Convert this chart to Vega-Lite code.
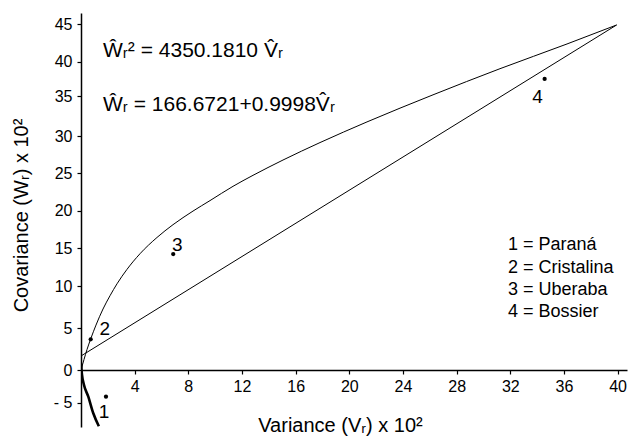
{
  "$schema": "https://vega.github.io/schema/vega-lite/v6.json",
  "width": 546,
  "height": 414,
  "autosize": {"type": "none"},
  "padding": {"left": 81, "top": 13, "right": 3, "bottom": 9},
  "background": "white",
  "config": {
    "font": "Liberation Sans",
    "view": {"stroke": null},
    "axis": {
      "grid": false,
      "domainColor": "black",
      "domainWidth": 1.5,
      "tickColor": "black",
      "tickWidth": 1.2,
      "tickSize": 4,
      "labelColor": "black",
      "labelFont": "Liberation Sans",
      "labelFontSize": 16,
      "titleColor": "black",
      "titleFont": "Liberation Sans",
      "titleFontSize": 20,
      "titleFontWeight": "normal",
      "labelFlush": false,
      "labelOverlap": false
    }
  },
  "datasets": {
    "curve": [
      {"branch": "upper", "ord": 1, "Vr": 0, "Wr": 0},
      {"branch": "upper", "ord": 2, "Vr": 0.224, "Wr": 1.26},
      {"branch": "upper", "ord": 3, "Vr": 0.447, "Wr": 2.45},
      {"branch": "upper", "ord": 4, "Vr": 0.723, "Wr": 3.73},
      {"branch": "upper", "ord": 5, "Vr": 1.118, "Wr": 5.38},
      {"branch": "upper", "ord": 6, "Vr": 1.64, "Wr": 7.28},
      {"branch": "upper", "ord": 7, "Vr": 2.162, "Wr": 8.85},
      {"branch": "upper", "ord": 8, "Vr": 2.684, "Wr": 10.29},
      {"branch": "upper", "ord": 9, "Vr": 3.429, "Wr": 12.21},
      {"branch": "upper", "ord": 10, "Vr": 4.398, "Wr": 14.28},
      {"branch": "upper", "ord": 11, "Vr": 5.665, "Wr": 16.44},
      {"branch": "upper", "ord": 12, "Vr": 6.858, "Wr": 18.14},
      {"branch": "upper", "ord": 13, "Vr": 8.349, "Wr": 19.95},
      {"branch": "upper", "ord": 14, "Vr": 9.616, "Wr": 21.35},
      {"branch": "upper", "ord": 15, "Vr": 11.331, "Wr": 23.26},
      {"branch": "upper", "ord": 16, "Vr": 12.822, "Wr": 24.73},
      {"branch": "upper", "ord": 17, "Vr": 15.058, "Wr": 26.78},
      {"branch": "upper", "ord": 18, "Vr": 17.816, "Wr": 29.12},
      {"branch": "upper", "ord": 19, "Vr": 21.319, "Wr": 31.76},
      {"branch": "upper", "ord": 20, "Vr": 26.239, "Wr": 35.17},
      {"branch": "upper", "ord": 21, "Vr": 31.233, "Wr": 38.98},
      {"branch": "upper", "ord": 22, "Vr": 36.228, "Wr": 42.35},
      {"branch": "upper", "ord": 23, "Vr": 39.926, "Wr": 44.87},
      {"branch": "lower", "ord": 1, "Vr": 0, "Wr": 0.8},
      {"branch": "lower", "ord": 2, "Vr": 0.075, "Wr": -0.76},
      {"branch": "lower", "ord": 3, "Vr": 0.224, "Wr": -2.29},
      {"branch": "lower", "ord": 4, "Vr": 0.544, "Wr": -4.08},
      {"branch": "lower", "ord": 5, "Vr": 0.916, "Wr": -6.62},
      {"branch": "lower", "ord": 6, "Vr": 1.33, "Wr": -8.6}
    ],
    "regression": [
      {"Vr": 0, "Wr": 1.68},
      {"Vr": 39.926, "Wr": 44.87}
    ],
    "parents": [
      {"id": "1", "name": "Paraná", "Vr": 1.862, "Wr": -4.08},
      {"id": "2", "name": "Cristalina", "Vr": 0.723, "Wr": 3.68},
      {"id": "3", "name": "Uberaba", "Vr": 6.875, "Wr": 14.24},
      {"id": "4", "name": "Bossier", "Vr": 34.56, "Wr": 37.48}
    ],
    "notes": [
      {"kind": "eq", "text": "\u0174\u1d63\u00b2 = 4350.1810 V\u0302\u1d63", "Vr": 1.64, "Wr": 40.58},
      {"kind": "eq", "text": "\u0174\u1d63 = 166.6721+0.9998V\u0302\u1d63", "Vr": 1.64, "Wr": 33.13},
      {"kind": "legend", "text": "1 = Paraná", "Vr": 31.83, "Wr": 14.77},
      {"kind": "legend", "text": "2 = Cristalina", "Vr": 31.83, "Wr": 11.76},
      {"kind": "legend", "text": "3 = Uberaba", "Vr": 31.83, "Wr": 8.94},
      {"kind": "legend", "text": "4 = Bossier", "Vr": 31.83, "Wr": 6.37}
    ]
  },
  "encoding": {
    "x": {
      "field": "Vr",
      "type": "quantitative",
      "scale": {"domain": [0, 40.7], "nice": false, "zero": false},
      "axis": {
        "values": [4, 8, 12, 16, 20, 24, 28, 32, 36, 40],
        "offset": -57,
        "labelPadding": 4,
        "title": "Variance (V\u1d63) x 10\u00b2",
        "titleX": 259,
        "titleY": 61,
        "titleAlign": "center",
        "titleBaseline": "alphabetic"
      }
    },
    "y": {
      "field": "Wr",
      "type": "quantitative",
      "scale": {
        "domain": [-8.72, -5, 0, 5, 10, 15, 20, 25, 30, 35, 40, 45, 46.46],
        "range": [414, 389.7, 357, 315.3, 273, 235.3, 197.7, 160.3, 123, 83, 48.7, 11, 0],
        "nice": false,
        "zero": false
      },
      "axis": {
        "values": [-5, 0, 5, 10, 15, 20, 25, 30, 35, 40, 45],
        "labelExpr": "datum.value < 0 ? '- ' + (-datum.value) : datum.label",
        "labelPadding": 5,
        "title": "Covariance (W\u1d63) x 10\u00b2",
        "titleX": -60,
        "titleY": 202,
        "titleAngle": -90,
        "titleAlign": "center",
        "titleBaseline": "middle"
      }
    }
  },
  "layer": [
    {
      "data": {"name": "curve"},
      "transform": [{"filter": "datum.branch === 'upper'"}],
      "mark": {"type": "line", "color": "black", "strokeWidth": 1, "interpolate": "monotone", "clip": true},
      "encoding": {"order": {"field": "ord", "type": "quantitative"}}
    },
    {
      "data": {"name": "curve"},
      "transform": [{"filter": "datum.branch === 'lower'"}],
      "mark": {"type": "line", "color": "black", "strokeWidth": 2.6, "interpolate": "monotone", "clip": true},
      "encoding": {"order": {"field": "ord", "type": "quantitative"}}
    },
    {
      "data": {"name": "regression"},
      "mark": {"type": "line", "color": "black", "strokeWidth": 1},
      "encoding": {}
    },
    {
      "data": {"name": "parents"},
      "mark": {"type": "point", "filled": true, "color": "black", "size": 18, "opacity": 1},
      "encoding": {}
    },
    {
      "data": {"name": "parents"},
      "transform": [{"filter": "datum.id === '1'"}],
      "mark": {"type": "text", "fontSize": 19, "color": "black", "align": "center", "baseline": "alphabetic", "dx": -2, "dy": 21},
      "encoding": {"text": {"field": "id"}}
    },
    {
      "data": {"name": "parents"},
      "transform": [{"filter": "datum.id === '2'"}],
      "mark": {"type": "text", "fontSize": 19, "color": "black", "align": "center", "baseline": "alphabetic", "dx": 14, "dy": -4},
      "encoding": {"text": {"field": "id"}}
    },
    {
      "data": {"name": "parents"},
      "transform": [{"filter": "datum.id === '3'"}],
      "mark": {"type": "text", "fontSize": 19, "color": "black", "align": "center", "baseline": "alphabetic", "dx": 4, "dy": -3},
      "encoding": {"text": {"field": "id"}}
    },
    {
      "data": {"name": "parents"},
      "transform": [{"filter": "datum.id === '4'"}],
      "mark": {"type": "text", "fontSize": 19, "color": "black", "align": "center", "baseline": "alphabetic", "dx": -7, "dy": 24},
      "encoding": {"text": {"field": "id"}}
    },
    {
      "data": {"name": "notes"},
      "transform": [{"filter": "datum.kind === 'eq'"}],
      "mark": {"type": "text", "fontSize": 21, "color": "black", "align": "left", "baseline": "alphabetic"},
      "encoding": {"text": {"field": "text"}}
    },
    {
      "data": {"name": "notes"},
      "transform": [{"filter": "datum.kind === 'legend'"}],
      "mark": {"type": "text", "fontSize": 18, "color": "black", "align": "left", "baseline": "alphabetic"},
      "encoding": {"text": {"field": "text"}}
    }
  ]
}
